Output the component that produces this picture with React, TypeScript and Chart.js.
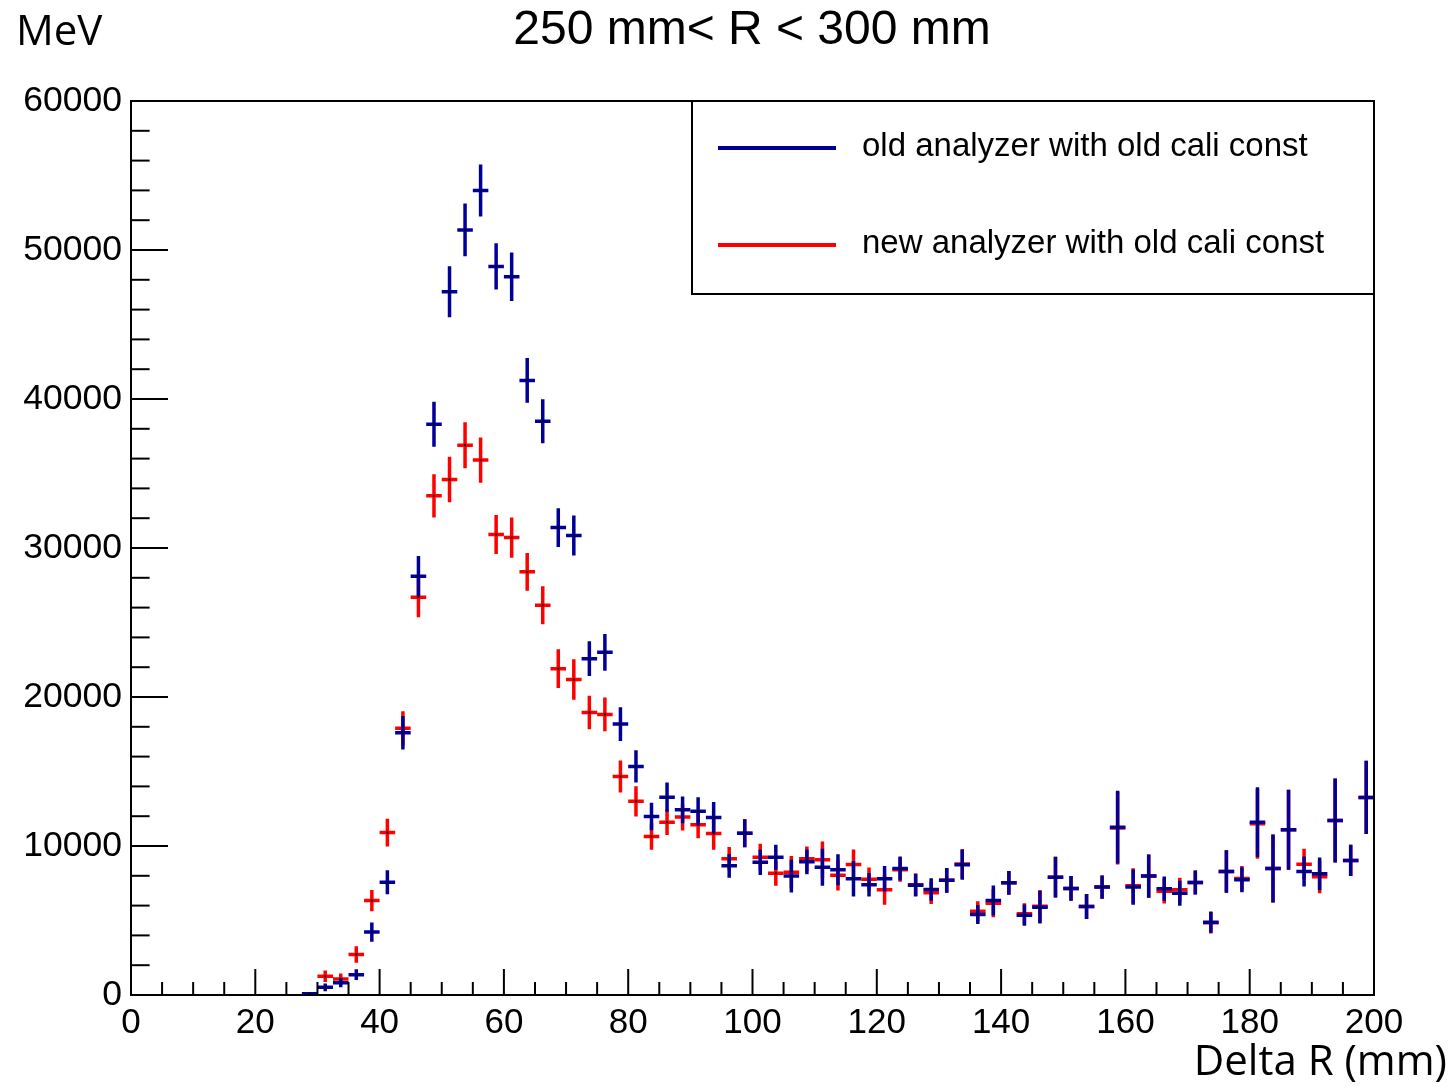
import React, { useEffect, useRef } from "react";
import { Chart, registerables } from "chart.js";

Chart.register(...registerables);

const titleText = "250 mm< R < 300 mm";
const yUnitText = "MeV";
const xTitleText = "Delta R (mm)";
const seriesLabels = ["old analyzer with old cali const", "new analyzer with old cali const"];
const seriesColors = ["#000099", "#ff0000"];
const binWidth = 2.5;

const binCenters = [
  28.75, 31.25, 33.75, 36.25, 38.75, 41.25, 43.75, 46.25, 48.75, 51.25,
  53.75, 56.25, 58.75, 61.25, 63.75, 66.25, 68.75, 71.25, 73.75, 76.25,
  78.75, 81.25, 83.75, 86.25, 88.75, 91.25, 93.75, 96.25, 98.75, 101.25,
  103.75, 106.25, 108.75, 111.25, 113.75, 116.25, 118.75, 121.25, 123.75, 126.25,
  128.75, 131.25, 133.75, 136.25, 138.75, 141.25, 143.75, 146.25, 148.75, 151.25,
  153.75, 156.25, 158.75, 161.25, 163.75, 166.25, 168.75, 171.25, 173.75, 176.25,
  178.75, 181.25, 183.75, 186.25, 188.75, 191.25, 193.75, 196.25, 198.75,
];

const oldValues = [
  80, 520, 820, 1360, 4220, 7570, 17600, 28100, 38300, 47200,
  51350, 54000, 48900, 48200, 41250, 38500, 31370, 30840, 22570, 23000,
  18180, 15340, 11980, 13280, 12430, 12340, 11910, 8670, 10860, 8910,
  9250, 7980, 8940, 8580, 8400, 7800, 7400, 7800, 8490, 7370,
  7080, 7700, 8740, 5400, 6340, 7530, 5360, 5890, 7910, 7150,
  5940, 7240, 11260, 7240, 7980, 7130, 6830, 7550, 4890, 8290,
  7730, 11600, 8490, 11090, 8290, 8130, 11710, 9030, 13260,
];

const oldErrors = [
  30, 260, 300, 360, 640, 805, 1120, 1360, 1510, 1710,
  1765, 1745, 1545, 1630, 1510, 1475, 1300, 1340, 1165, 1230,
  1140, 1085, 930, 975, 895, 940, 1040, 795, 940, 850,
  840, 1105, 830, 1240, 1040, 1185, 785, 850, 805, 760,
  750, 830, 1005, 640, 1005, 795, 715, 1095, 1365, 830,
  840, 785, 2440, 1175, 1455, 815, 840, 805, 715, 1430,
  840, 2340, 2280, 2685, 1005, 1095, 2820, 1050, 2460,
];

const newValues = [
  50, 1260, 1070, 2720, 6340, 10900, 17900, 26700, 33500, 34600,
  36900, 35900, 30900, 30700, 28400, 26150, 21900, 21170, 18960, 18830,
  14660, 13000, 10640, 11600, 11940, 11420, 10840, 9140, 10860, 9250,
  8170, 8240, 9140, 9070, 8040, 8760, 7770, 7060, 8400, 7400,
  6860, 7700, 8800, 5620, 6160, 7530, 5450, 5960, 7910, 7150,
  5940, 7240, 11200, 7330, 7980, 6970, 7060, 7550, 4850, 8290,
  7820, 11490, 8490, 11090, 8780, 7930, 11710, 9030, 13260,
];

const newErrors = [
  30, 390, 370, 560, 715, 930, 1150, 1340, 1450, 1530,
  1540, 1520, 1310, 1350, 1265, 1275, 1300, 1360, 1130, 1130,
  1075, 1015, 895, 870, 895, 895, 1095, 785, 940, 895,
  830, 1095, 830, 1230, 1030, 1005, 785, 1005, 805, 760,
  760, 830, 1005, 670, 940, 795, 715, 1095, 1365, 830,
  840, 785, 2440, 1175, 1455, 830, 805, 805, 715, 1430,
  840, 2340, 2280, 2685, 1030, 1095, 2820, 1050, 2460,
];

const xMajorStep = 20;
const xMinorStep = 5;
const yMajorStep = 10000;
const yMinorStep = 2000;

const tickFont = "Liberation Sans, Arial, Helvetica, sans-serif";

const rootPlugin = {
  id: "rootHist",
  afterDatasetDraw(chart: any, args: any) {
    const ds: any = chart.data.datasets[args.index];
    const xs = chart.scales.x;
    const ys = chart.scales.y;
    const ctx = chart.ctx;
    const a = chart.chartArea;
    ctx.save();
    ctx.beginPath();
    ctx.rect(a.left, a.top, a.right - a.left, a.bottom - a.top);
    ctx.clip();
    ctx.strokeStyle = ds.borderColor;
    ctx.lineWidth = 3.5;
    ctx.lineCap = "butt";
    ds.data.forEach((p: any, i: number) => {
      const err = ds.errors[i];
      const px = xs.getPixelForValue(p.x);
      const py = ys.getPixelForValue(p.y);
      const x0 = xs.getPixelForValue(p.x - binWidth / 2);
      const x1 = xs.getPixelForValue(p.x + binWidth / 2);
      const yTop = ys.getPixelForValue(p.y + err);
      const yBot = ys.getPixelForValue(Math.max(0, p.y - err));
      ctx.beginPath();
      ctx.moveTo(x0, py);
      ctx.lineTo(x1, py);
      ctx.moveTo(px, yTop);
      ctx.lineTo(px, yBot);
      ctx.stroke();
      ctx.fillStyle = "#000";
      ctx.fillRect(px - 1, py - 1, 2, 2);
    });
    ctx.restore();
  },
  afterDraw(chart: any) {
    const ctx = chart.ctx;
    const a = chart.chartArea;
    const xs = chart.scales.x;
    const ys = chart.scales.y;
    ctx.save();
    ctx.strokeStyle = "#000";
    ctx.lineWidth = 2;
    // x ticks (inside)
    for (let v = xs.min; v <= xs.max + 1e-9; v += xMinorStep) {
      const px = xs.getPixelForValue(v);
      const len = Math.abs(v % xMajorStep) < 1e-9 ? 26 : 13;
      ctx.beginPath();
      ctx.moveTo(px, a.bottom);
      ctx.lineTo(px, a.bottom - len);
      ctx.stroke();
    }
    // y ticks (inside)
    for (let v = ys.min; v <= ys.max + 1e-9; v += yMinorStep) {
      const py = ys.getPixelForValue(v);
      const len = Math.abs(v % yMajorStep) < 1e-9 ? 37 : 18.6;
      ctx.beginPath();
      ctx.moveTo(a.left, py);
      ctx.lineTo(a.left + len, py);
      ctx.stroke();
    }
    // frame
    ctx.strokeRect(a.left, a.top, a.right - a.left, a.bottom - a.top);

    // legend box
    const lx0 = 692;
    const ly0 = a.top;
    const lx1 = a.right;
    const ly1 = 294;
    ctx.fillStyle = "#fff";
    ctx.fillRect(lx0, ly0, lx1 - lx0, ly1 - ly0);
    ctx.strokeRect(lx0, ly0, lx1 - lx0, ly1 - ly0);
    const rowsY = [148, 245];
    chart.data.datasets.forEach((ds: any, i: number) => {
      ctx.strokeStyle = ds.borderColor;
      ctx.lineWidth = 4;
      ctx.beginPath();
      ctx.moveTo(718, rowsY[i]);
      ctx.lineTo(836, rowsY[i]);
      ctx.stroke();
      ctx.fillStyle = "#000";
      ctx.font = `33px ${tickFont}`;
      ctx.textAlign = "left";
      ctx.textBaseline = "middle";
      ctx.fillText(ds.label, 862, rowsY[i] - 1);
    });

    // title
    ctx.fillStyle = "#000";
    ctx.font = `48px ${tickFont}`;
    ctx.textAlign = "center";
    ctx.textBaseline = "alphabetic";
    ctx.fillText(titleText, 752, 44);

    // axis titles
    ctx.font = `42px "Open Sans", sans-serif`;
    ctx.textAlign = "left";
    ctx.fillText(yUnitText, 16, 45);
    ctx.textAlign = "right";
    ctx.fillText(xTitleText, 1447, 1075);
    ctx.restore();
  },
};

export default function App() {
  const canvasRef = useRef<HTMLCanvasElement | null>(null);

  useEffect(() => {
    const canvas = canvasRef.current;
    if (!canvas) return;
    const chart = new Chart(canvas, {
      type: "scatter",
      data: {
        datasets: [
          {
            label: seriesLabels[0],
            data: binCenters.map((x, i) => ({ x, y: oldValues[i] })),
            errors: oldErrors,
            borderColor: seriesColors[0],
            backgroundColor: seriesColors[0],
            pointRadius: 0,
            showLine: false,
          } as any,
          {
            label: seriesLabels[1],
            data: binCenters.map((x, i) => ({ x, y: newValues[i] })),
            errors: newErrors,
            borderColor: seriesColors[1],
            backgroundColor: seriesColors[1],
            pointRadius: 0,
            showLine: false,
          } as any,
        ],
      },
      options: {
        responsive: false,
        animation: false,
        devicePixelRatio: 1,
        layout: { padding: { left: 0, top: 101, right: 79, bottom: 0 } },
        plugins: {
          legend: { display: false },
          title: { display: false },
          tooltip: { enabled: false },
        },
        scales: {
          x: {
            type: "linear",
            min: 0,
            max: 200,
            grid: { display: false, drawTicks: false, tickLength: 0 },
            border: { display: false },
            ticks: {
              stepSize: xMajorStep,
              autoSkip: false,
              maxRotation: 0,
              padding: 7,
              color: "#000",
              font: { family: tickFont, size: 35 },
              callback: (v: any) => String(v),
            },
            afterFit: (s: any) => {
              s.height = 94;
            },
          },
          y: {
            type: "linear",
            min: 0,
            max: 60000,
            grid: { display: false, drawTicks: false, tickLength: 0 },
            border: { display: false },
            ticks: {
              stepSize: yMajorStep,
              autoSkip: false,
              padding: 9,
              color: "#000",
              font: { family: tickFont, size: 35.5 },
              callback: (v: any) => String(v),
            },
            afterFit: (s: any) => {
              s.width = 131;
            },
          },
        },
      } as any,
      plugins: [rootPlugin as any],
    });
    return () => chart.destroy();
  }, []);

  return (
    <canvas
      ref={canvasRef}
      width={1453}
      height={1089}
      style={{ position: "absolute", left: 0, top: 0, display: "block", background: "#fff" }}
    />
  );
}
